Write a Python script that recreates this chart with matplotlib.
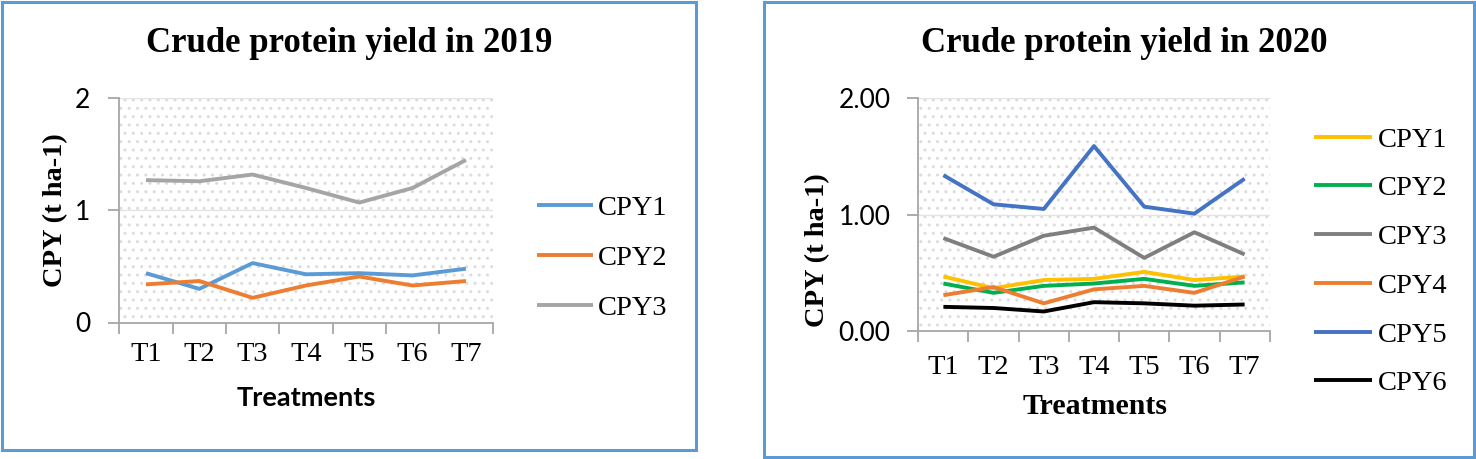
import matplotlib
matplotlib.use("Agg")
import matplotlib.pyplot as plt
from matplotlib.patches import Rectangle

treatments = ["T1", "T2", "T3", "T4", "T5", "T6", "T7"]

# 2019
cpy1_2019 = [0.44, 0.30, 0.53, 0.43, 0.44, 0.42, 0.48]
cpy2_2019 = [0.34, 0.37, 0.22, 0.33, 0.41, 0.33, 0.37]
cpy3_2019 = [1.27, 1.26, 1.32, 1.20, 1.07, 1.20, 1.45]

# 2020
cpy1_2020 = [0.47, 0.37, 0.44, 0.45, 0.51, 0.44, 0.47]
cpy2_2020 = [0.41, 0.33, 0.39, 0.41, 0.45, 0.39, 0.42]
cpy3_2020 = [0.80, 0.64, 0.82, 0.89, 0.63, 0.85, 0.66]
cpy4_2020 = [0.31, 0.38, 0.24, 0.36, 0.39, 0.33, 0.47]
cpy5_2020 = [1.34, 1.09, 1.05, 1.59, 1.07, 1.01, 1.31]
cpy6_2020 = [0.21, 0.20, 0.17, 0.25, 0.24, 0.22, 0.23]

plt.rcParams["hatch.color"] = "#dcdcdc"
plt.rcParams["hatch.linewidth"] = 1.0

W, H = 1476, 459
fig = plt.figure(figsize=(W / 100, H / 100), dpi=100)
fig.patch.set_facecolor("white")

serif = "Liberation Serif"
sans = "Lato"
lw = 2.8


def px_axes(x0, x1, y0, y1):
    return fig.add_axes([x0 / W, 1 - y1 / H, (x1 - x0) / W, (y1 - y0) / H])


def style(ax, yticks, ylabels, pad_x, pad_y):
    x = range(len(treatments))
    ax.set_xlim(-0.5, len(treatments) - 0.5)
    ax.set_ylim(0, 2)
    ax.set_xticks([i - 0.5 for i in range(len(treatments) + 1)])
    ax.set_xticklabels([])
    ax.set_xticks(list(x), minor=True)
    ax.set_xticklabels(treatments, minor=True, fontfamily=serif, fontsize=20.5)
    ax.tick_params(axis="x", which="major", length=8, width=1.3, color="#a6a6a6", direction="out")
    ax.tick_params(axis="x", which="minor", length=0, pad=pad_x)
    ax.set_yticks(yticks)
    ax.set_yticklabels(ylabels, fontfamily=sans, fontsize=19)
    ax.tick_params(axis="y", length=8, width=1.3, color="#a6a6a6", pad=pad_y)
    for s in ["top", "right"]:
        ax.spines[s].set_visible(False)
    for s in ["left", "bottom"]:
        ax.spines[s].set_color("#a6a6a6")
        ax.spines[s].set_linewidth(1.3)
    ax.grid(axis="y", color="#e3e3e3", linewidth=1.0)
    ax.set_axisbelow(True)
    ax.patch.set_facecolor("white")
    ax.patch.set_hatch("..")
    ax.patch.set_edgecolor("#dcdcdc")
    ax.patch.set_linewidth(0)


# panel borders
fig.patches.append(Rectangle((2 / W, 1 - 450 / H), 694 / W, 448 / H, transform=fig.transFigure,
                             fill=False, edgecolor="#5b9bd5", linewidth=2.2))
fig.patches.append(Rectangle((764 / W, 1 - 457 / H), 710 / W, 455 / H, transform=fig.transFigure,
                             fill=False, edgecolor="#5b9bd5", linewidth=2.2))

# ---- 2019
ax1 = px_axes(119.3, 492.6, 98.3, 322.5)
style(ax1, [0, 1, 2], ["0", "1", "2"], 14, 13)
x = range(len(treatments))
series19 = [("CPY1", cpy1_2019, "#5b9bd5"), ("CPY2", cpy2_2019, "#ed7d31"), ("CPY3", cpy3_2019, "#a5a5a5")]
for name, vals, c in series19:
    ax1.plot(x, vals, color=c, linewidth=lw, solid_capstyle="butt", label=name)
fig.text(349 / W, 1 - 43 / H, "Crude protein yield in 2019", fontfamily=serif, fontweight="bold",
         fontsize=25, ha="center", va="center")
fig.text(56 / W, 1 - 210 / H, "CPY (t ha-1)", fontfamily=serif, fontweight="bold", fontsize=20.5,
         rotation=90, ha="center", va="center")
fig.text(306 / W, 1 - 398 / H, "Treatments", fontfamily=sans, fontweight="bold", fontsize=19.5,
         ha="center", va="center")
h1, l1 = ax1.get_legend_handles_labels()
fig.legend(h1, l1, loc="center left", bbox_to_anchor=(537 / W, 1 - 258 / H), frameon=False,
           prop={"family": serif, "size": 20.5}, borderpad=0, borderaxespad=0,
           handlelength=1.95, handletextpad=0.2, labelspacing=0.85)

# ---- 2020
ax2 = px_axes(918.3, 1269.7, 98.3, 331.3)
style(ax2, [0, 1, 2], ["0.00", "1.00", "2.00"], 17, 12)
series20 = [("CPY1", cpy1_2020, "#ffc000"), ("CPY2", cpy2_2020, "#00b050"),
            ("CPY3", cpy3_2020, "#7f7f7f"), ("CPY4", cpy4_2020, "#ed7d31"),
            ("CPY5", cpy5_2020, "#4472c4"), ("CPY6", cpy6_2020, "#000000")]
for name, vals, c in series20:
    ax2.plot(x, vals, color=c, linewidth=lw, solid_capstyle="butt", label=name)
fig.text(1124.5 / W, 1 - 43 / H, "Crude protein yield in 2020", fontfamily=serif, fontweight="bold",
         fontsize=25, ha="center", va="center")
fig.text(818 / W, 1 - 250 / H, "CPY (t ha-1)", fontfamily=serif, fontweight="bold", fontsize=20.5,
         rotation=90, ha="center", va="center")
fig.text(1095 / W, 1 - 407 / H, "Treatments", fontfamily=serif, fontweight="bold", fontsize=21.5,
         ha="center", va="center")
h2, l2 = ax2.get_legend_handles_labels()
fig.legend(h2, l2, loc="center left", bbox_to_anchor=(1314 / W, 1 - 261.5 / H), frameon=False,
           prop={"family": serif, "size": 20.5}, borderpad=0, borderaxespad=0,
           handlelength=2.05, handletextpad=0.2, labelspacing=0.8)

fig.savefig("out.png", dpi=100)
